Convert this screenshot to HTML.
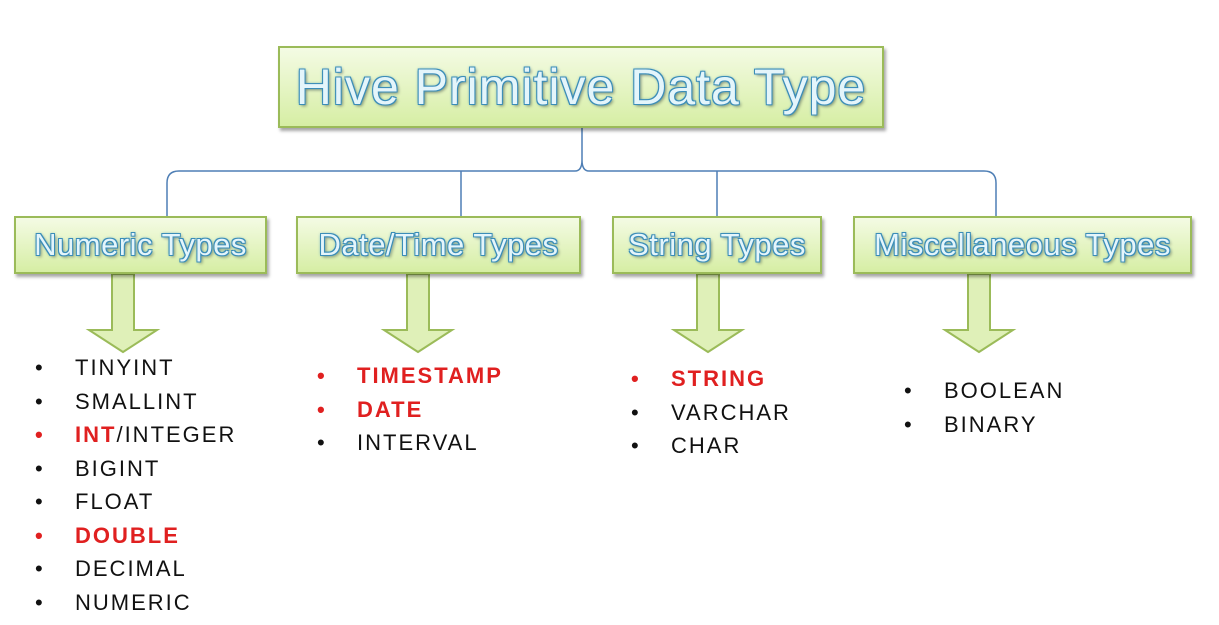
<!DOCTYPE html>
<html><head><meta charset="utf-8"><style>
body{margin:0;width:1219px;height:625px;background:#fff;position:relative;overflow:hidden;font-family:"Liberation Sans",sans-serif}
.box{position:absolute;box-sizing:border-box;border:2px solid #9bbb59;background:linear-gradient(#f4fbe4,#d6eea4);box-shadow:2px 3px 3px rgba(0,0,0,.35);display:flex;align-items:center;justify-content:center;color:#e4f5fb;font-weight:normal;white-space:nowrap;
text-shadow:-1px -1px 0 #3b8db8,1px -1px 0 #3b8db8,-1px 1px 0 #3b8db8,1px 1px 0 #3b8db8,0 0 3px #3b8db8,2px 2px 3px rgba(0,0,0,.4)}
.list{position:absolute;font-size:22px;letter-spacing:2px;line-height:33.5px;color:#111}
.list div{position:relative;padding-left:40px}
.list div::before{content:"•";position:absolute;left:0;}
.r{color:#e02020;font-weight:bold}
.r::before{color:#e02020}
</style></head><body>
<svg width="1219" height="625" style="position:absolute;left:0;top:0">
<g fill="none" stroke="#4f7fb5" stroke-width="1.5">
<path d="M167 216 V183 Q167 171 179 171 H575 Q582 171 582 160 V128 M582 128 V160 Q582 171 589 171 H984 Q996 171 996 183 V216"/>
<path d="M461 171 V216 M717 171 V216"/>
</g>
<g fill="#dff0b8" stroke="#9bbb59" stroke-width="2">
<path d="M112 274 h22 v56 h23 l-34 22 l-34 -22 h23 z"/>
<path d="M407 274 h22 v56 h23 l-34 22 l-34 -22 h23 z"/>
<path d="M697 274 h22 v56 h23 l-34 22 l-34 -22 h23 z"/>
<path d="M968 274 h22 v56 h23 l-34 22 l-34 -22 h23 z"/>
</g>
</svg>
<div class="box" style="left:278px;top:46px;width:606px;height:82px;font-size:50px;letter-spacing:1px">Hive Primitive Data Type</div>
<div class="box" style="left:14px;top:216px;width:253px;height:58px;font-size:31px;letter-spacing:0.5px">Numeric Types</div>
<div class="box" style="left:296px;top:216px;width:285px;height:58px;font-size:31px;letter-spacing:0.5px">Date/Time Types</div>
<div class="box" style="left:612px;top:216px;width:210px;height:58px;font-size:31px;letter-spacing:0.5px">String Types</div>
<div class="box" style="left:853px;top:216px;width:339px;height:58px;font-size:31px;letter-spacing:0.5px">Miscellaneous Types</div>
<div class="list" style="left:35px;top:351px">
<div>TINYINT</div><div>SMALLINT</div><div class="r">INT<span style="color:#111;font-weight:normal">/INTEGER</span></div><div>BIGINT</div><div>FLOAT</div><div class="r">DOUBLE</div><div>DECIMAL</div><div>NUMERIC</div>
</div>
<div class="list" style="left:317px;top:359px">
<div class="r">TIMESTAMP</div><div class="r">DATE</div><div>INTERVAL</div>
</div>
<div class="list" style="left:631px;top:362px">
<div class="r">STRING</div><div>VARCHAR</div><div>CHAR</div>
</div>
<div class="list" style="left:904px;top:374px">
<div>BOOLEAN</div><div>BINARY</div>
</div>
</body></html>
